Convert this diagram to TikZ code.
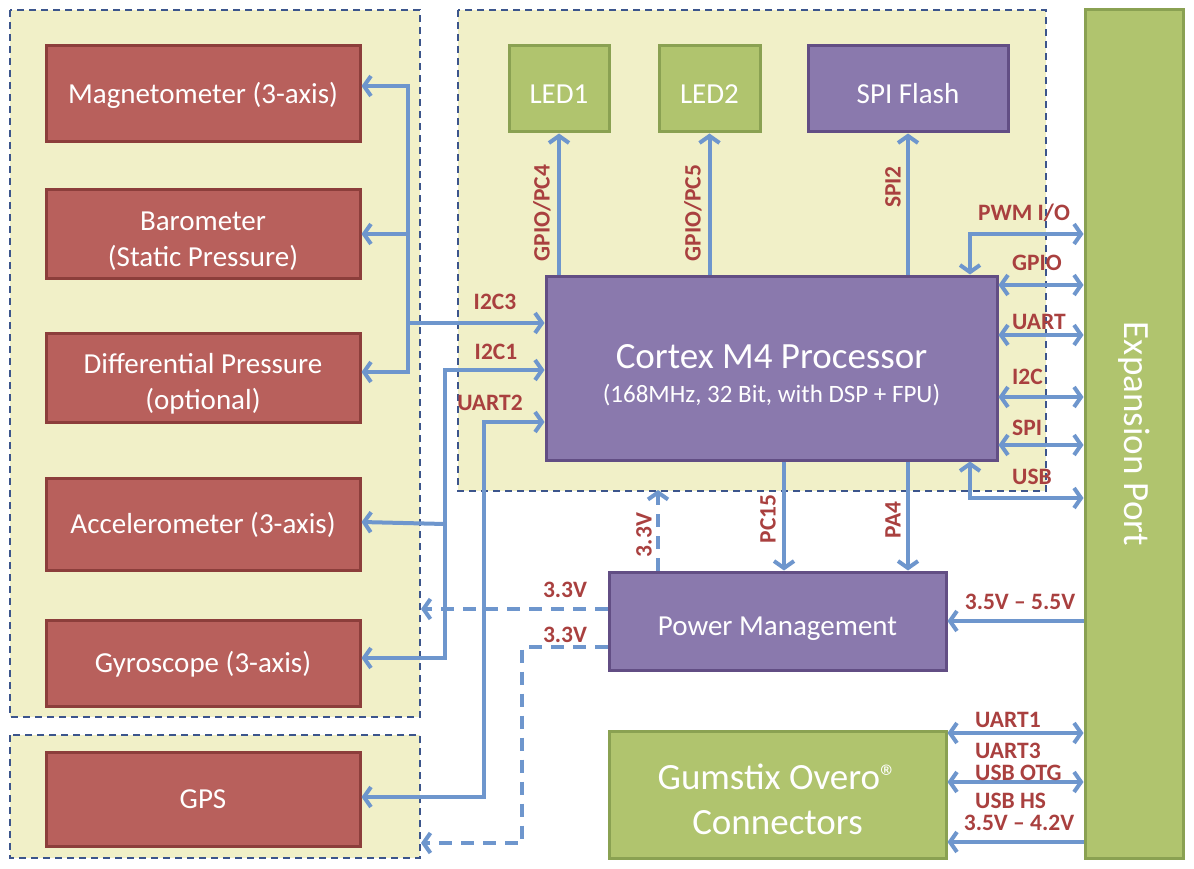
\documentclass[tikz,border=0pt]{standalone}
\usepackage{fontspec}
\setmainfont{Carlito}
\usetikzlibrary{arrows.meta}
\definecolor{pxPanel}{HTML}{F1F0C8}
\definecolor{pxDash}{HTML}{3C558C}
\definecolor{pxRed}{HTML}{B8605C}
\definecolor{pxRedDk}{HTML}{8C3E3B}
\definecolor{pxGreen}{HTML}{B0C46E}
\definecolor{pxGreenDk}{HTML}{8AA152}
\definecolor{pxPurple}{HTML}{8A79AD}
\definecolor{pxPurpleDk}{HTML}{624E84}
\definecolor{pxBus}{HTML}{6E96CD}
\definecolor{pxLabel}{HTML}{A9403F}
\tikzset{
  pxnode/.style={
    draw, line width=3pt, text=white, inner sep=0pt,
    font=\fontsize{29}{36}\selectfont, text height=19pt, text depth=0pt
  },
  lowtext/.style={text height=29pt},
  boxtext/.style={text=white, align=center, inner sep=0pt, font=\fontsize{29}{36}\selectfont},
  sensor/.style={pxnode, fill=pxRed, draw=pxRedDk, minimum width=314pt},
  greenbox/.style={pxnode, fill=pxGreen, draw=pxGreenDk},
  purplebox/.style={pxnode, fill=pxPurple, draw=pxPurpleDk},
  panel/.style={fill=pxPanel, draw=pxDash, line width=1.5pt, dash pattern=on 7pt off 5pt},
  bus/.style={line width=4pt, draw=pxBus, >={Straight Barb[length=7pt,width=20pt]}},
  pwr/.style={bus, dash pattern=on 13pt off 9pt},
  tag/.style={text=pxLabel, font=\fontsize{23.5}{26}\selectfont\bfseries, inner sep=0pt}
}
\begin{document}
\begin{tikzpicture}[x=1pt, y=-1pt]
  \useasboundingbox (0,0) rectangle (1194,869);
  % panels
  \draw[panel] (10,10) rectangle (420,717);
  \draw[panel] (10,735) rectangle (420,858);
  \draw[panel] (458,10) rectangle (1046,491);

  % sensors
  \node[sensor, minimum height=96pt] (mag) at (203,94) {Magnetometer (3-axis)};
  \node[sensor, minimum height=88pt] (baro) at (203,234) {};
  \node[boxtext, yshift=-7pt] at (baro.center) {Barometer\\(Static Pressure)};
  \node[sensor, minimum height=89pt] (diff) at (203,377.5) {};
  \node[boxtext, yshift=-6pt] at (diff.center) {Differential Pressure\\(optional)};
  \node[sensor, minimum height=92pt] (acc) at (203,524) {Accelerometer (3-axis)};
  \node[sensor, minimum height=86pt] (gyro) at (203,663) {Gyroscope (3-axis)};
  \node[sensor, minimum height=94pt] (gps) at (203,799) {GPS};

  % main blocks
  \node[greenbox, lowtext, minimum width=100pt, minimum height=86pt] (led1) at (559,89) {LED1};
  \node[greenbox, lowtext, minimum width=101pt, minimum height=86pt] (led2) at (709.5,89) {LED2};
  \node[purplebox, lowtext, minimum width=200pt, minimum height=86pt] (flash) at (908,89) {SPI Flash};
  \node[purplebox, minimum width=451pt, minimum height=184pt] (cpu) at (771.5,368) {};
  \node[boxtext, font=\fontsize{37}{42}\selectfont, yshift=11pt] at (cpu.center) {Cortex M4 Processor};
  \node[boxtext, font=\fontsize{25}{30}\selectfont, yshift=-27pt] at (cpu.center) {(168MHz, 32 Bit, with DSP + FPU)};
  \node[purplebox, lowtext, minimum width=337pt, minimum height=98pt] (pm) at (777.5,621) {Power Management};
  \node[greenbox, minimum width=337pt, minimum height=127pt] (gum) at (777.5,794.5) {};
  \node[boxtext, font=\fontsize{37}{45}\selectfont, yshift=-5pt] at (gum.center)
    {Gumstix Overo\raisebox{1pt}{\fontsize{34}{34}\selectfont ®}\\Connectors};
  \node[greenbox, minimum width=98pt, minimum height=848pt] (exp) at (1134,434) {};
  \node[boxtext, rotate=-90, font=\fontsize{37}{42}\selectfont] at (exp.center) {Expansion Port};

  % sensor buses
  \coordinate (b3) at (408,323);
  \coordinate (b1) at (445,370);
  \coordinate (b2) at (484,422);
  \draw[bus,<-] (mag.east |- 0,86) -| (b3);
  \draw[bus,<-] (diff.east |- 0,372) -| (b3);
  \draw[bus,<-] (baro.east) -- (baro.east -| b3);
  \draw[bus,->] (b3) -- (cpu.west |- b3);
  \draw[bus,<->] (gyro.east |- 0,658) -| (b1) -- (cpu.west |- b1);
  \draw[bus,<-] (acc.east |- 0,522) -- (acc.east -| b1);
  \draw[bus,<->] (gps.east |- 0,797) -| (b2) -- (cpu.west |- b2);
  \node[tag] at (495,302) {I2C3};
  \node[tag] at (496,352) {I2C1};
  \node[tag] at (490,403) {UART2};

  % cpu to leds / flash
  \draw[bus,->] (cpu.north -| led1) -- (led1.south);
  \draw[bus,->] (cpu.north -| led2) -- (led2.south);
  \draw[bus,->] (cpu.north -| flash) -- (flash.south);
  \node[tag, rotate=90] at (542,213) {GPIO/PC4};
  \node[tag, rotate=90] at (693,213) {GPIO/PC5};
  \node[tag, rotate=90] at (893,187) {SPI2};

  % cpu to power management
  \draw[bus,->] (cpu.south -| 784,0) -- (pm.north -| 784,0);
  \draw[bus,->] (cpu.south -| 908,0) -- (pm.north -| 908,0);
  \node[tag, rotate=90] at (768,519) {PC15};
  \node[tag, rotate=90] at (893,520) {PA4};

  % 3.3V supply
  \coordinate (s1) at (421,609);
  \coordinate (s2) at (421,843);
  \coordinate (s3) at (658,490);
  \draw[pwr,->] (pm.west |- s1) -- (s1);
  \draw[pwr,->] (pm.west |- 0,647) -| (522,843) -- (s2);
  \draw[pwr,->] (pm.north -| s3) -- (s3);
  \node[tag] at (565,590) {3.3V};
  \node[tag] at (565,635) {3.3V};
  \node[tag, rotate=90] at (644,535) {3.3V};

  % expansion port
  \draw[bus,<->] (exp.west |- 0,234) -| (cpu.north -| 970,0);
  \draw[bus,<->] (cpu.east |- 0,285) -- (exp.west |- 0,285);
  \draw[bus,<->] (cpu.east |- 0,335) -- (exp.west |- 0,335);
  \draw[bus,<->] (cpu.east |- 0,397) -- (exp.west |- 0,397);
  \draw[bus,<->] (cpu.east |- 0,445) -- (exp.west |- 0,445);
  \draw[bus,<->] (cpu.south -| 970,0) |- (exp.west |- 0,498);
  \draw[bus,->] (exp.west |- pm) -- (pm.east);
  \node[tag] at (1024,213) {PWM I/O};
  \node[tag, anchor=west] at (1012,263) {GPIO};
  \node[tag, anchor=west] at (1012,322) {UART};
  \node[tag, anchor=west] at (1012,377) {I2C};
  \node[tag, anchor=west] at (1012,428) {SPI};
  \node[tag, anchor=west] at (1012,477) {USB};
  \node[tag] at (1020,602) {3.5V -- 5.5V};

  % gumstix
  \draw[bus,<->] (gum.east |- 0,733) -- (exp.west |- 0,733);
  \draw[bus,<->] (gum.east |- 0,782) -- (exp.west |- 0,782);
  \draw[bus,->] (exp.west |- 0,842) -- (gum.east |- 0,842);
  \node[tag, anchor=west] at (975,720) {UART1};
  \node[tag, anchor=west] at (975,751) {UART3};
  \node[tag, anchor=west] at (975,773) {USB OTG};
  \node[tag, anchor=west] at (975,801) {USB HS};
  \node[tag] at (1019,823) {3.5V -- 4.2V};
\end{tikzpicture}
\end{document}
